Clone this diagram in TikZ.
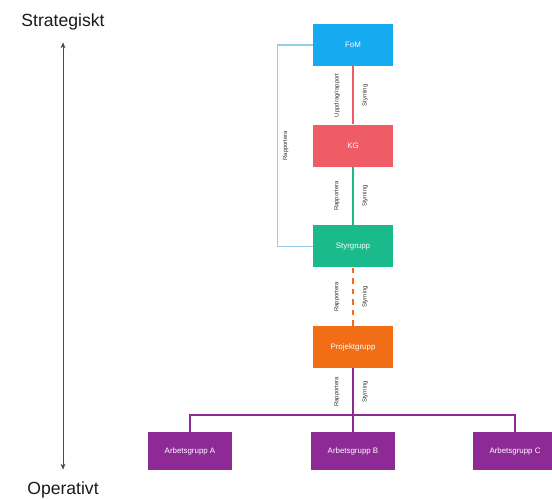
\documentclass[tikz,border=0pt]{standalone}
\usepackage{fontspec}
\setmainfont{Liberation Sans}
\usepackage{xcolor}
\usetikzlibrary{arrows.meta, positioning}

\definecolor{fomblue}{RGB}{22,170,240}
\definecolor{kgred}{RGB}{240,92,102}
\definecolor{styrgreen}{RGB}{26,186,140}
\definecolor{projorange}{RGB}{242,110,22}
\definecolor{arbpurple}{RGB}{142,42,150}
\definecolor{brackblue}{RGB}{150,205,238}

\begin{document}
\begin{tikzpicture}[
  x=0.02cm, y=-0.02cm,
  node distance=1.16cm,
  box/.style={rectangle, minimum width=1.6cm, minimum height=0.84cm,
              text=white, font=\fontsize{4.5}{5}\selectfont, inner sep=1pt},
  fombox/.style={box, fill=fomblue},
  kgbox/.style={box, fill=kgred},
  styrbox/.style={box, fill=styrgreen},
  projbox/.style={box, fill=projorange},
  arbbox/.style={box, fill=arbpurple, minimum width=1.7cm, minimum height=0.76cm},
  link/.style={line width=0.6pt},
  lbl/.style={font=\fontsize{3.4}{4}\selectfont, text=black!80, rotate=90, inner sep=0pt},
  axis/.style={{Stealth[length=1.2mm, width=1mm]}-{Stealth[length=1.2mm, width=1mm]}, black!70, line width=0.4pt}
]
\useasboundingbox (0,0) rectangle (552,500);

% axis
\node[font=\fontsize{10}{12}\selectfont, text=black!90] (strat) at (63,22) {Strategiskt};
\node[font=\fontsize{10}{12}\selectfont, text=black!90] (oper) at (63,490) {Operativt};
\path (strat.south) ++(0,6) coordinate (atop) (oper.north) ++(0,-6) coordinate (abot);
\draw[axis] (atop) -- (abot);

% organisation
\node[fombox] (fom) at (353,45) {FoM};
\node[kgbox, below=of fom] (kg) {KG};
\node[styrbox, below=of kg] (styr) {Styrgrupp};
\node[projbox, below=of styr] (proj) {Projektgrupp};

\node[arbbox] (arbB) at (353,451) {Arbetsgrupp B};
\node[arbbox] (arbA) at (190,451) {Arbetsgrupp A};
\node[arbbox] (arbC) at (515,451) {Arbetsgrupp C};

\draw[link, kgred] (fom) -- node[xshift=-0.32cm, lbl] {Uppdrag/rapport} node[xshift=0.24cm, lbl] {Styrning} (kg);
\draw[link, styrgreen] (kg) -- node[xshift=-0.32cm, lbl] {Rapportera} node[xshift=0.24cm, lbl] {Styrning} (styr);
\draw[link, projorange, dashed] (styr) -- node[xshift=-0.32cm, lbl] {Rapportera} node[xshift=0.24cm, lbl] {Styrning} (proj);

% bus to the working groups
\coordinate (bus) at (353,415);
\draw[link, arbpurple] (proj) -- node[xshift=-0.32cm, lbl] {Rapportera} node[xshift=0.24cm, lbl] {Styrning} (bus);
\draw[link, arbpurple] (arbA.north) |- (bus) -| (arbC.north);
\draw[link, arbpurple] (bus) -- (arbB);

% bracket
\draw[link, brackblue] (fom.west) -- ++(-35,0) |- node[pos=0.25, xshift=0.16cm, lbl] {Rapportera} (styr.west);
\end{tikzpicture}
\end{document}
